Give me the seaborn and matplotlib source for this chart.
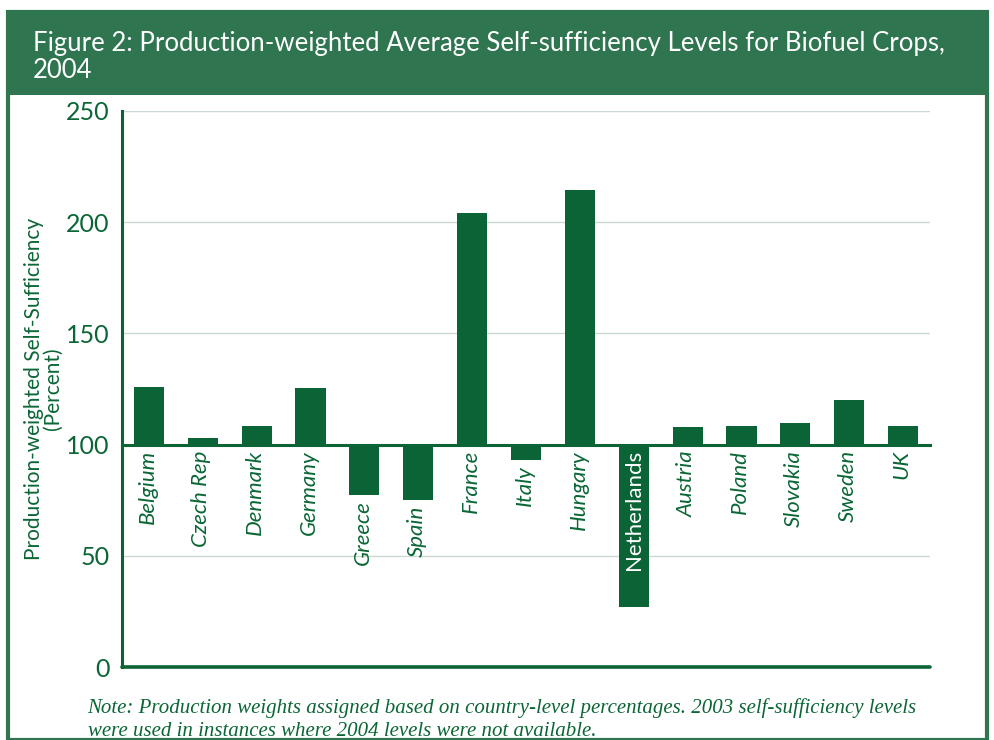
import numpy as np
import pandas as pd
import seaborn as sns
import matplotlib.pyplot as plt
from matplotlib.patches import Rectangle

countries = ['Belgium', 'Czech Rep', 'Denmark', 'Germany', 'Greece', 'Spain', 'France',
             'Italy', 'Hungary', 'Netherlands', 'Austria', 'Poland', 'Slovakia', 'Sweden', 'UK']
self_sufficiency = [126, 103, 108.5, 125.5, 77.5, 75, 204, 93, 214.5, 27, 108, 108.5, 109.5, 120, 108.5]
y_ticks = [0, 50, 100, 150, 200, 250]
baseline = 100

title = 'Figure 2: Production-weighted Average Self-sufficiency Levels for Biofuel Crops,\n2004'
note = ('Note: Production weights assigned based on country-level percentages. 2003 self-sufficiency levels\n'
        'were used in instances where 2004 levels were not available.')

bar_green = '#0a6435'
text_green = '#0b6636'
frame_green = '#2e7550'
grid_color = '#c9dbd1'

sns.set_style('white')
plt.rcParams['font.family'] = ['Lato', 'DejaVu Sans']

df = pd.DataFrame({'country': countries, 'value': self_sufficiency})
df['diff'] = df['value'] - baseline

fig = plt.figure(figsize=(9.95, 7.4), dpi=100)
ax = fig.add_axes([0.1226, 0.0986, 0.8121, 0.7514])

sns.barplot(data=df, x='country', y='diff', color=bar_green, saturation=1,
            width=0.56, errorbar=None, bottom=baseline, linewidth=0, ax=ax)

ax.set_ylim(0, 250)
ax.set_xlim(-0.5, len(countries) - 0.5)
ax.set_yticks(y_ticks)
ax.set_yticklabels([str(t) for t in y_ticks], fontsize=18, color=text_green)
for t in y_ticks:
    if t not in (0, baseline):
        ax.axhline(t, color=grid_color, lw=1, zorder=0)

# x axis sits on the 100 line
ax.set_axisbelow(False)
ax.spines['bottom'].set_position(('data', baseline))
ax.spines['top'].set_visible(False)
ax.spines['right'].set_visible(False)
for s in ('bottom', 'left'):
    ax.spines[s].set_color(bar_green)
    ax.spines[s].set_linewidth(2.2)
    ax.spines[s].set_zorder(4)
ax.axhline(0, color=bar_green, lw=2.6, clip_on=False)

ax.set_xticks(np.arange(len(countries) + 1) - 0.5, minor=True)
ax.set_xticks([])
ax.tick_params(axis='x', which='minor', length=5, width=2, color=bar_green, direction='out')
ax.tick_params(axis='y', length=5, width=2, color=bar_green, direction='out', pad=4)
ax.set_xlabel('')

# country labels: below the 100 line, or below the bar when it drops under 100
for i, (name, v) in enumerate(zip(countries, self_sufficiency)):
    if name == 'Netherlands':
        ax.annotate(name, xy=(i, baseline), xytext=(0, -4), textcoords='offset points',
                    rotation=90, ha='center', va='top', fontsize=16, color='white', zorder=6)
    else:
        ax.annotate(name, xy=(i, min(v, baseline)), xytext=(-1, -4), textcoords='offset points',
                    rotation=90, ha='center', va='top', fontsize=16, style='italic',
                    color=text_green, zorder=6)

ax.set_ylabel('Production-weighted Self-Sufficiency\n(Percent)', fontsize=15,
              color=text_green, linespacing=0.95, labelpad=2)

# frame and header band
fig.patches.append(Rectangle((0.008, 0.0), 0.984, 0.984, transform=fig.transFigure,
                             fill=False, edgecolor=frame_green, lw=3, zorder=0))
fig.patches.append(Rectangle((0.008, 0.8716), 0.984, 0.1124, transform=fig.transFigure,
                             facecolor=frame_green, edgecolor='none', zorder=0))
fig.text(0.033, 0.923, title, color='white', fontsize=18.5, va='center', ha='left',
         linespacing=1.12)

fig.text(0.088, 0.028, note, color=text_green, fontsize=15, style='italic',
         family=['Liberation Serif', 'DejaVu Serif'], va='center', ha='left', linespacing=1.3)

fig.savefig('out.png', dpi=100)
